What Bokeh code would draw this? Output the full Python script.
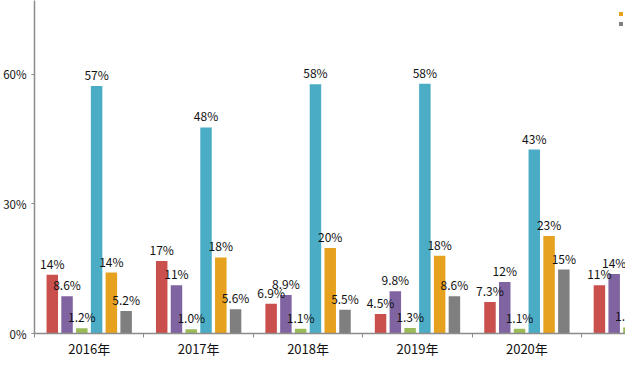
import numpy as np
from bokeh.plotting import figure
from bokeh.models import (Range1d, FixedTicker, PrintfTickFormatter, ColumnDataSource,
                          LabelSet, Legend, LegendItem)
from bokeh.core.properties import value
from bokeh.embed import file_html
from bokeh.resources import INLINE

# ---- data ----
years = ["2016年", "2017年", "2018年", "2019年", "2020年", "2021年"]
series_names = ["车险", "企业财产险", "农业险", "健康险", "责任险", "意外险"]
s_red = [13.6, 16.8, 6.9, 4.5, 7.3, 11.2]
s_purple = [8.6, 11.2, 8.9, 9.8, 11.9, 13.8]
s_green = [1.2, 1.0, 1.1, 1.3, 1.1, 1.4]
s_blue = [57.3, 47.7, 57.7, 57.8, 42.6, 44.0]
s_orange = [14.1, 17.6, 19.8, 18.0, 22.6, 20.0]
s_gray = [5.2, 5.6, 5.5, 8.6, 14.8, 10.0]
y_ticks = [0, 30, 60]

series = [s_red, s_purple, s_green, s_blue, s_orange, s_gray]
colors = ["#C9504D", "#8064A2", "#9BBB59", "#4BACC6", "#E6A21E", "#7F7F7F"]

FONT = "Noto Sans CJK SC"

def fmt(v):
    return f"{v:.0f}%" if v >= 10 else f"{v:.1f}%"

n = len(years)
centers = np.arange(n) + 0.5
bounds = list(np.arange(n + 1))

p = figure(width=625, height=380, output_backend="svg", toolbar_location=None,
           x_range=Range1d(0, 5.401), y_range=Range1d(0, 77.1),
           min_border_left=33, min_border_top=0, min_border_right=0, min_border_bottom=47)
p.outline_line_color = None
p.xgrid.visible = False
p.ygrid.visible = False
p.background_fill_color = "white"

step = 0.135
bw = 0.105
renderers = []
for k, (vals, col) in enumerate(zip(series, colors)):
    xs = centers + (k - 2.5) * step
    src = ColumnDataSource(dict(x=xs, top=vals, lab=[fmt(v) for v in vals]))
    r = p.vbar(x="x", top="top", width=bw, source=src, fill_color=col, line_color=None)
    renderers.append(r)
    p.add_layout(LabelSet(x="x", y="top", text="lab", source=src, y_offset=3,
                          text_align="center", text_baseline="bottom",
                          text_font=value(FONT), text_font_size="12px", text_color="#111111"))

# y axis
ya = p.yaxis[0]
ya.ticker = FixedTicker(ticks=y_ticks)
ya.formatter = PrintfTickFormatter(format="%d%%")
ya.axis_line_color = "#8C8C8C"
ya.axis_line_width = 1.5
ya.major_tick_line_color = "#8C8C8C"
ya.major_tick_out = 3
ya.major_tick_in = 0
ya.minor_tick_line_color = None
ya.major_label_standoff = 5
ya.major_label_text_font = FONT
ya.major_label_text_font_size = "11.5px"
ya.major_label_text_color = "#111111"

# x axis
xa = p.xaxis[0]
xa.ticker = FixedTicker(ticks=list(centers), minor_ticks=bounds)
xa.major_label_overrides = {float(c): y for c, y in zip(centers, years)}
xa.axis_line_color = "#8C8C8C"
xa.axis_line_width = 1.5
xa.major_tick_line_color = None
xa.major_tick_out = 0
xa.major_tick_in = 0
xa.minor_tick_line_color = "#8C8C8C"
xa.minor_tick_out = 4
xa.minor_tick_in = 0
xa.major_label_standoff = 1
xa.major_label_text_font = FONT
xa.major_label_text_font_size = "13px"
xa.major_label_text_color = "#111111"

items = [LegendItem(label=nm, renderers=[r]) for nm, r in zip(series_names, renderers)]
leg_style = dict(glyph_width=5, glyph_height=5, label_height=8,
                 spacing=0, padding=0, margin=0, label_standoff=3,
                 label_text_font=FONT, label_text_font_size="7px", label_text_line_height=1.0,
                 border_line_color=None, background_fill_alpha=0)
# upper part of the legend lies above the visible area (cropped in the reference)
p.add_layout(Legend(items=items[:4], location=(584, 345), **leg_style))
p.add_layout(Legend(items=items[4:], location=(584, 305), **leg_style))

open("out.html", "w").write(file_html(p, INLINE))
